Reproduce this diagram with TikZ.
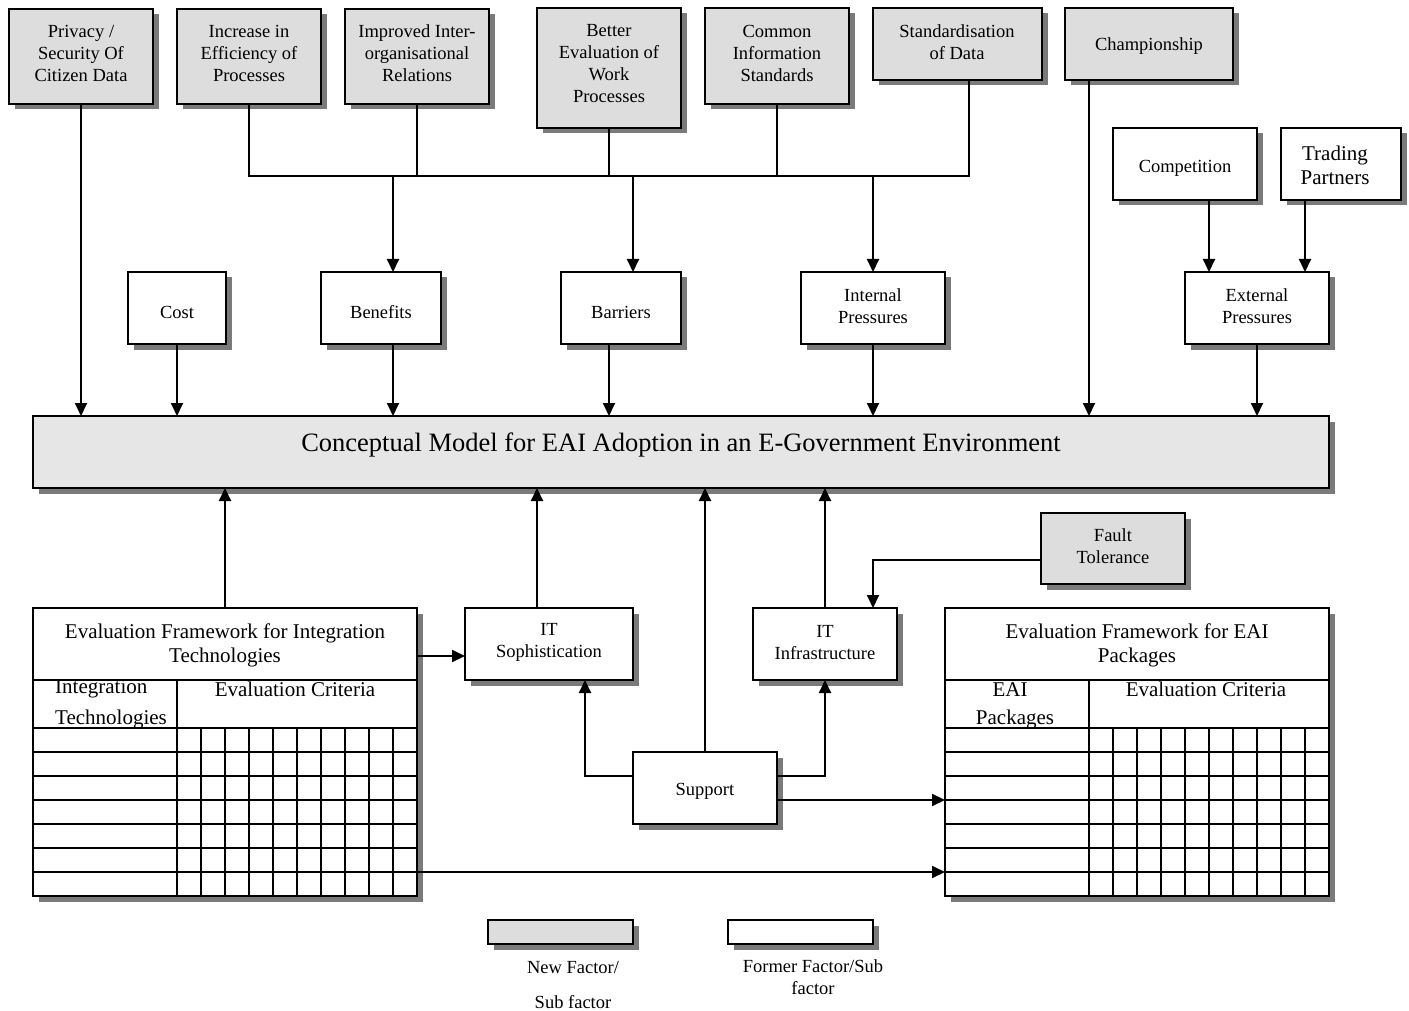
\documentclass[tikz,border=0pt]{standalone}
\usepackage{fontspec}
\setmainfont{Liberation Serif}
\usetikzlibrary{arrows.meta,shadows}
\definecolor{newf}{HTML}{DDDDDD}
\definecolor{mainf}{HTML}{E6E6E6}
\definecolor{shd}{HTML}{7A7A7A}
\begin{document}
\begin{tikzpicture}[x=1pt,y=-1pt,
  fbox/.style={draw,line width=1.6pt,inner sep=0pt,outer sep=0pt,
    drop shadow={shadow xshift=5.5pt,shadow yshift=-5.5pt,fill=shd,draw=none,opacity=1}},
  newbox/.style={fbox,fill=newf},
  oldbox/.style={fbox,fill=white},
  txt/.style={inner sep=0pt,align=center,font=\fontsize{18.5}{21.7}\selectfont},
  ttxt/.style={inner sep=0pt,align=center,font=\fontsize{21}{24}\selectfont},
  conn/.style={line width=1.8pt},
  gridl/.style={line width=1.5pt},
  arr/.style={conn,-{Triangle[width=12pt,length=13pt]}}]
\useasboundingbox (0,0) rectangle (1409,1011);

% ---- top row (new factors)
\node[newbox,minimum width=144pt,minimum height=95pt] (priv) at (81,56.5) {};
\node[txt] (privT) at (81,53.5) {Privacy /\\Security Of\\Citizen Data};
\node[newbox,minimum width=144pt,minimum height=95pt] (incr) at (249,56.5) {};
\node[txt] (incrT) at (249,53.5) {Increase in\\Efficiency of\\Processes};
\node[newbox,minimum width=144pt,minimum height=95pt] (impr) at (417,56.5) {};
\node[txt] (imprT) at (417,53) {Improved Inter-\\organisational\\Relations};
\node[newbox,minimum width=144pt,minimum height=120pt] (better) at (609,68) {};
\node[txt] (betterT) at (609,63.5) {Better\\Evaluation of\\Work\\Processes};
\node[newbox,minimum width=144pt,minimum height=96pt] (common) at (777,56) {};
\node[txt] (commonT) at (777,53.5) {Common\\Information\\Standards};
\node[newbox,minimum width=169pt,minimum height=72pt] (stand) at (957.5,44) {};
\node[txt] (standT) at (957,42.5) {Standardisation\\of Data};
\node[newbox,minimum width=168pt,minimum height=72pt] (champ) at (1149,44) {};
\node[txt] (champT) at (1149,46.5) {Championship};

% ---- right side
\node[oldbox,minimum width=144pt,minimum height=72pt] (comp) at (1185,164) {};
\node[txt] (compT) at (1185,168) {Competition};
\node[oldbox,minimum width=120pt,minimum height=72pt] (trade) at (1341,164) {};
\node[ttxt] (tradeT) at (1335,165.5) {Trading\\Partners};
\node[oldbox,minimum width=144pt,minimum height=72pt] (ext) at (1257,308) {};
\node[txt] (extT) at (1257,306.5) {External\\Pressures};

% ---- middle row
\node[oldbox,minimum width=98pt,minimum height=72pt] (cost) at (177,308) {};
\node[txt] (costT) at (177,312) {Cost};
\node[oldbox,minimum width=120pt,minimum height=72pt] (bene) at (381,308) {};
\node[txt] (beneT) at (381,312) {Benefits};
\node[oldbox,minimum width=120pt,minimum height=72pt] (barr) at (621,308) {};
\node[txt] (barrT) at (621,312) {Barriers};
\node[oldbox,minimum width=144pt,minimum height=72pt] (intp) at (873,308) {};
\node[txt] (intpT) at (873,306.5) {Internal\\Pressures};

% ---- main box
\node[fbox,fill=mainf,minimum width=1296pt,minimum height=72pt] (main) at (681,452) {};
\node[inner sep=0pt,font=\fontsize{26.5}{30}\selectfont] (mainT) at (681,445)
  {Conceptual Model for EAI Adoption in an E-Government Environment};

% ---- lower boxes
\node[oldbox,minimum width=168pt,minimum height=72pt] (soph) at (549,644) {};
\node[txt] (sophT) at (549,642.5) {IT\\Sophistication};
\node[oldbox,minimum width=144pt,minimum height=72pt] (infra) at (825,644) {};
\node[txt] (infraT) at (825,642.5) {IT\\Infrastructure};
\node[oldbox,minimum width=144pt,minimum height=72pt] (support) at (705,788) {};
\node[txt] (supportT) at (705,791) {Support};
\node[newbox,minimum width=144pt,minimum height=71pt] (fault) at (1113,548.5) {};
\node[txt] (faultT) at (1113,546) {Fault\\Tolerance};

% ---- table: integration technologies
\node[oldbox,minimum width=384pt,minimum height=288pt] (eft) at (225,752) {};
\foreach \yy in {680,728,752,776,800,824,848,872} \draw[gridl] (33,\yy) -- (417,\yy);
\draw[gridl] (177,680) -- (177,896);
\foreach \xx in {201,225,...,393} \draw[gridl] (\xx,728) -- (\xx,896);
\node[ttxt] (eftT) at (225,645.5) {Evaluation Framework for Integration\\Technologies};
\node[ttxt,anchor=west] (eftC1) at (55,689) {Integration};
\node[ttxt,anchor=west] (eftC2) at (55,719) {Technologies};
\node[ttxt] (eftC3) at (295,689) {Evaluation Criteria};

% ---- table: EAI packages
\node[oldbox,minimum width=384pt,minimum height=288pt] (eap) at (1137,752) {};
\foreach \yy in {680,728,752,776,800,824,848,872} \draw[gridl] (945,\yy) -- (1329,\yy);
\draw[gridl] (1089,680) -- (1089,896);
\foreach \xx in {1113,1137,...,1305} \draw[gridl] (\xx,728) -- (\xx,896);
\node[ttxt] (eapT) at (1137,645.5) {Evaluation Framework for EAI\\Packages};
\node[ttxt] (eapC1) at (1010,690) {EAI};
\node[ttxt] (eapC2) at (1015,719) {Packages};
\node[ttxt] (eapC3) at (1206,689) {Evaluation Criteria};

% ---- legend
\node[newbox,minimum width=145pt,minimum height=24pt] (legN) at (560.5,932) {};
\node[oldbox,minimum width=145pt,minimum height=24pt] (legO) at (800.5,932) {};
\node[txt] (legNT1) at (573,967) {New Factor/};
\node[txt,anchor=base] (legNT2) at (573,1008) {Sub factor};
\node[txt] (legOT) at (813,977) {Former Factor/Sub\\factor};

% ---- connectors: top bus
\coordinate (busA) at (249,176);
\coordinate (busB) at (969,176);
\coordinate (d1) at (393,176);
\coordinate (d2) at (633,176);
\coordinate (d3) at (873,176);
\draw[conn] (incr.south) -- (incr.south |- busA) -- (busB) -- (busB |- stand.south);
\draw[conn] (impr.south) -- (impr.south |- busA);
\draw[conn] (better.south) -- (better.south |- busA);
\draw[conn] (common.south) -- (common.south |- busA);
\draw[arr] (d1) -- (d1 |- bene.north);
\draw[arr] (d2) -- (d2 |- barr.north);
\draw[arr] (d3) -- (d3 |- intp.north);

% ---- into main box from above
\draw[arr] (priv.south) -- (priv.south |- main.north);
\draw[arr] (cost.south) -- (cost.south |- main.north);
\draw[arr] (d1 |- bene.south) -- (d1 |- main.north);
\draw[arr] ([xshift=-12pt]barr.south) -- ([xshift=-12pt]barr.south |- main.north);
\draw[arr] (intp.south) -- (intp.south |- main.north);
\draw[arr] ([xshift=-60pt]champ.south) -- ([xshift=-60pt]champ.south |- main.north);
\draw[arr] (ext.south) -- (ext.south |- main.north);
\draw[arr] ([xshift=24pt]comp.south) -- ([xshift=24pt]comp.south |- ext.north);
\draw[arr] ([xshift=-36pt]trade.south) -- ([xshift=-36pt]trade.south |- ext.north);

% ---- into main box from below
\draw[arr] (eft.north) -- (eft.north |- main.south);
\draw[arr] ([xshift=-12pt]soph.north) -- ([xshift=-12pt]soph.north |- main.south);
\draw[arr] (support.north) -- (support.north |- main.south);
\draw[arr] (infra.north) -- (infra.north |- main.south);

% ---- lower connectors
\draw[arr] ([yshift=-11.5pt]fault.west) -| ([xshift=48pt]infra.north);
\draw[arr] ([yshift=12pt]support.west) -| ([xshift=36pt]soph.south);
\draw[arr] ([yshift=12pt]support.east) -| (infra.south);
\draw[arr] ([yshift=-12pt]support.east) -- ([yshift=-12pt]support.east -| eap.west);
\draw[arr] ([yshift=-12pt]soph.west -| eft.east) -- ([yshift=-12pt]soph.west);
\draw[arr] ([yshift=-120pt]eft.east) -- ([yshift=-120pt]eap.west);
\end{tikzpicture}
\end{document}
